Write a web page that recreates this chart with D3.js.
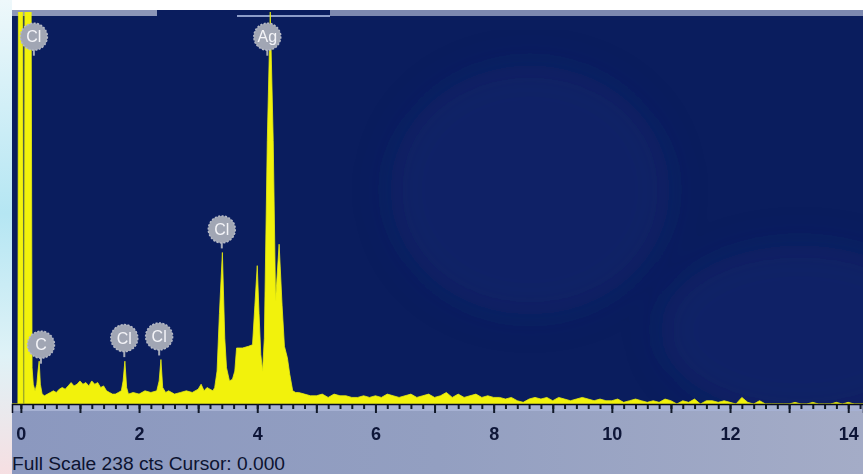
<!DOCTYPE html>
<html>
<head>
<meta charset="utf-8">
<script src="https://d3js.org/d3.v7.min.js"></script>
<style>
  body { margin: 0; background: #fff; }
  svg { display: block; }
</style>
</head>
<body>
<script>
// spectrum: energy (keV) and counts
const energy = [-0.15, -0.05, -0.04, 0.03, 0.04, 0.06, 0.07, 0.17, 0.19, 0.21, 0.24, 0.27, 0.29, 0.31, 0.33, 0.36,
  0.40, 0.45, 0.50, 0.55, 0.60, 0.65, 0.70, 0.75, 0.80, 0.85, 0.90, 0.95, 1.00, 1.05, 1.10, 1.15, 1.20, 1.25, 1.30,
  1.35, 1.40, 1.45, 1.50, 1.55, 1.60, 1.65, 1.70, 1.73, 1.76, 1.79, 1.82, 1.90, 2.00, 2.10, 2.20, 2.30, 2.34, 2.37,
  2.40, 2.45, 2.50, 2.60, 2.70, 2.80, 2.90, 3.00, 3.05, 3.10, 3.15, 3.20, 3.25, 3.28, 3.32, 3.36, 3.41, 3.45, 3.48,
  3.53, 3.58, 3.62, 3.65, 3.75, 3.85, 3.92, 3.96, 4.00, 4.03, 4.06, 4.09, 4.12, 4.17, 4.22, 4.27, 4.31, 4.37, 4.42,
  4.46, 4.51, 4.55, 4.60, 4.65, 4.70, 4.80, 4.90, 5.00, 5.10, 5.20, 5.30, 5.40, 5.50, 5.60, 5.70, 5.80, 5.90, 6.00,
  6.10, 6.20, 6.30, 6.40, 6.50, 6.60, 6.70, 6.80, 6.90, 7.00, 7.10, 7.20, 7.30, 7.40, 7.50, 7.60, 7.70, 7.80, 7.90,
  8.00, 8.10, 8.20, 8.30, 8.40, 8.50, 8.60, 8.70, 8.80, 8.90, 9.00, 9.10, 9.20, 9.30, 9.40, 9.50, 9.60, 9.70, 9.80,
  9.90, 10.0, 10.1, 10.2, 10.3, 10.4, 10.5, 10.6, 10.7, 10.8, 10.9, 11.0, 11.1, 11.2, 11.3, 11.4, 11.5, 11.6, 11.7,
  11.8, 11.9, 12.0, 12.1, 12.2, 12.3, 12.4, 12.5, 12.6, 12.7, 12.8, 12.9, 13.0, 13.1, 13.2, 13.3, 13.4, 13.5, 13.6,
  13.7, 13.8, 13.9, 14.0, 14.1, 14.25];
const counts = [0, 0, 300, 300, 0, 0, 300, 300, 22, 12, 8, 12, 20, 26, 12, 6,
  5, 6, 7, 8, 7, 9, 10, 9, 11, 13, 11, 12, 14, 12, 13, 11, 14, 12, 13,
  10, 11, 8, 7, 6, 6, 7, 8, 14, 26, 10, 6, 7, 6, 8, 7, 8, 14, 27,
  10, 7, 8, 6, 7, 8, 7, 9, 12, 8, 10, 9, 8, 10, 20, 55, 92, 40, 22,
  14, 15, 20, 34, 34, 35, 36, 60, 84, 55, 30, 20, 40, 160, 238, 160, 63, 97, 60,
  35, 28, 18, 8, 7, 7, 6, 5, 5, 6, 4, 6, 5, 5, 4, 4, 5, 4, 5,
  4, 6, 5, 4, 5, 6, 4, 5, 6, 4, 5, 7, 4, 6, 4, 5, 6, 4, 5,
  4, 4, 3, 4, 2, 1, 3, 4, 3, 4, 2, 4, 3, 2, 3, 4, 3, 2, 3,
  2, 2, 3, 1, 2, 3, 2, 1, 2, 1, 3, 2, 0, 2, 1, 3, 0, 2, 2,
  1, 2, 1, 0, 4, 1, 0, 2, 0, 0, 0, 0, 0, 1, 0, 0, 1, 0, 0,
  0, 1, 0, 1, 0, 0];

// peak labels
const labelNames = ["Cl", "Ag", "Cl", "C", "Cl", "Cl"];
const labelKeV = [0.22, 4.17, 3.40, 0.34, 1.75, 2.34];
const labelCts = [223, 223, 106, 36, 40, 41];

const xTickLabels = [0, 2, 4, 6, 8, 10, 12, 14];
const fullScale = 238;
const footer = "Full Scale 238 cts Cursor: 0.000";

const W = 863, H = 474;
const plot = { left: 12, top: 12, right: 863, bottom: 404 };

const x = d3.scaleLinear().domain([-0.15, 14.25]).range([plot.left, plot.right]);
const y = d3.scaleLinear().domain([0, fullScale]).range([plot.bottom, plot.top]);

const svg = d3.select("body").append("svg").attr("width", W).attr("height", H);
const defs = svg.append("defs");

const lg = defs.append("linearGradient").attr("id", "leftStrip").attr("x1", 0).attr("y1", 0).attr("x2", 0).attr("y2", 1);
lg.append("stop").attr("offset", "0%").attr("stop-color", "#eef8fb");
lg.append("stop").attr("offset", "45%").attr("stop-color", "#b5e6f3");
lg.append("stop").attr("offset", "75%").attr("stop-color", "#dff2f7");
lg.append("stop").attr("offset", "100%").attr("stop-color", "#f6dfe2");

const bg = defs.append("linearGradient").attr("id", "bottomBand").attr("x1", 0).attr("y1", 0).attr("x2", 1).attr("y2", 0);
bg.append("stop").attr("offset", "0%").attr("stop-color", "#8b98bf");
bg.append("stop").attr("offset", "50%").attr("stop-color", "#939fc1");
bg.append("stop").attr("offset", "100%").attr("stop-color", "#a4acc7");

defs.append("filter").attr("id", "blur").append("feGaussianBlur").attr("stdDeviation", 18);
defs.append("clipPath").attr("id", "plotClip").append("rect")
  .attr("x", plot.left).attr("y", plot.top)
  .attr("width", plot.right - plot.left).attr("height", plot.bottom - plot.top);

// surroundings
svg.append("rect").attr("x", 0).attr("y", 0).attr("width", W).attr("height", H).attr("fill", "#ffffff");
svg.append("rect").attr("x", 0).attr("y", 0).attr("width", plot.left).attr("height", H).attr("fill", "url(#leftStrip)");
svg.append("rect").attr("x", plot.left).attr("y", plot.bottom).attr("width", W - plot.left).attr("height", H - plot.bottom)
  .attr("fill", "url(#bottomBand)");
svg.append("rect").attr("x", plot.left).attr("y", plot.bottom + 1).attr("width", W - plot.left).attr("height", 6)
  .attr("fill", "#a6b1d3");

// plot background
svg.append("rect").attr("x", plot.left).attr("y", plot.top - 2)
  .attr("width", plot.right - plot.left).attr("height", plot.bottom - plot.top + 2)
  .attr("fill", "#0a1d5e");

// faint watermark blobs
const glow = svg.append("g").attr("clip-path", "url(#plotClip)").attr("filter", "url(#blur)");
glow.append("ellipse").attr("cx", 530).attr("cy", 190).attr("rx", 140).attr("ry", 125)
  .attr("fill", "#183381").attr("opacity", 0.25);
glow.append("ellipse").attr("cx", 800).attr("cy", 330).attr("rx", 140).attr("ry", 85)
  .attr("fill", "#183381").attr("opacity", 0.25);

// header bar
svg.append("rect").attr("x", plot.left).attr("y", 10).attr("width", 145).attr("height", 6).attr("fill", "#8c96b8");
svg.append("rect").attr("x", 330).attr("y", 10).attr("width", W - 330).attr("height", 6).attr("fill", "#7d89b0");
svg.append("rect").attr("x", 237).attr("y", 15).attr("width", 93).attr("height", 2).attr("fill", "#8c9cc8");

// spectrum
const pts = energy.map((e, i) => [e, counts[i]]);
const area = d3.area()
  .x(d => x(d[0]))
  .y0(y(0))
  .y1(d => y(d[1]));
svg.append("g").attr("clip-path", "url(#plotClip)")
  .append("path").datum(pts)
  .attr("d", area)
  .attr("fill", "#f2f20c")
  .attr("stroke", "#e8ee10")
  .attr("stroke-width", 0.8);

// peak labels
const lab = svg.selectAll("g.lab")
  .data(labelNames.map((n, i) => ({ n, e: labelKeV[i], c: labelCts[i] })))
  .enter().append("g").attr("class", "lab")
  .attr("transform", d => `translate(${x(d.e)},${y(d.c)})`);
lab.append("line").attr("x1", 0).attr("x2", 0).attr("y1", 10).attr("y2", 19)
  .attr("stroke", "#a6abb8").attr("stroke-width", 2);
lab.append("circle").attr("r", 13.5).attr("fill", "#a1a6b4")
  .attr("stroke", "#b6bac6").attr("stroke-width", 1.5).attr("stroke-dasharray", "2,1.5");
lab.append("text").text(d => d.n)
  .attr("text-anchor", "middle").attr("dy", "0.36em")
  .attr("font-family", "Liberation Sans, Arial, sans-serif")
  .attr("font-size", 16).attr("fill", "#f4f4f8");

// axis
const minor = d3.range(0, 14.21, 0.2);
const major = d3.range(0, 15, 1);
const axMinor = d3.axisBottom(x).tickValues(minor).tickSize(5).tickFormat("");
const axMajor = d3.axisBottom(x).tickValues(major).tickSize(9)
  .tickFormat(d => xTickLabels.includes(d) ? d : "");

const gMinor = svg.append("g").attr("transform", `translate(0,${plot.bottom})`).call(axMinor);
gMinor.select(".domain").remove();
gMinor.selectAll(".tick line").attr("stroke", "#101828").attr("stroke-width", 2);

const gMajor = svg.append("g").attr("transform", `translate(0,${plot.bottom})`).call(axMajor);
gMajor.select(".domain").attr("stroke", "#050a20").attr("stroke-width", 1.5);
gMajor.selectAll(".tick line").attr("stroke", "#101828").attr("stroke-width", 2);
gMajor.selectAll(".tick text")
  .attr("y", 0).attr("dy", 36)
  .attr("font-family", "Liberation Sans, Arial, sans-serif")
  .attr("font-weight", "bold").attr("font-size", 18).attr("fill", "#0e1638");

svg.append("text").attr("x", 12).attr("y", 470)
  .attr("font-family", "Liberation Sans, Arial, sans-serif")
  .attr("font-size", 18).attr("fill", "#0c1330")
  .attr("textLength", 273).attr("lengthAdjust", "spacingAndGlyphs")
  .text(footer);
</script>
</body>
</html>
